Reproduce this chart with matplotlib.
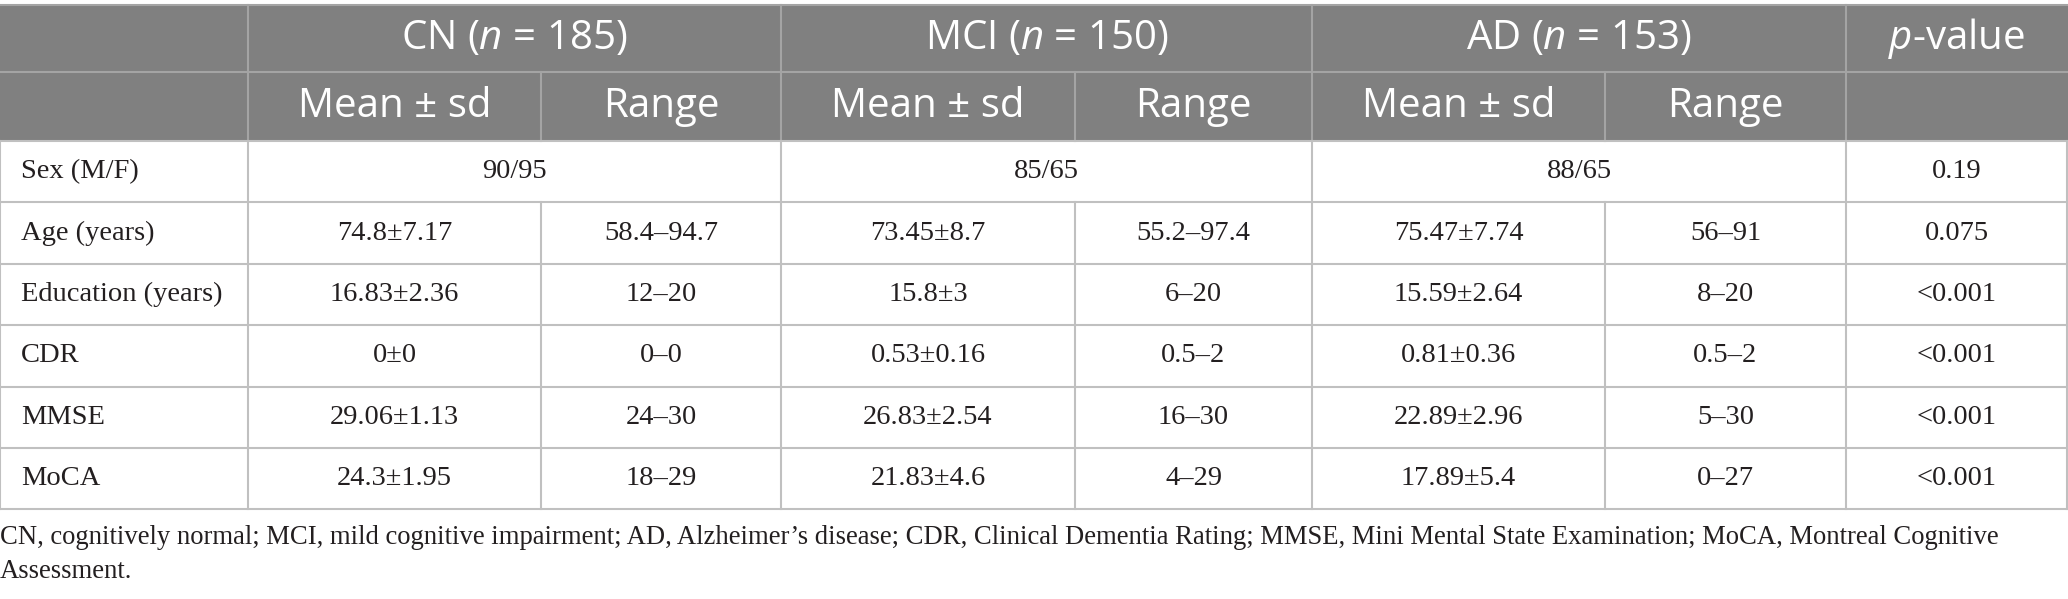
import matplotlib
matplotlib.use("Agg")
from matplotlib import pyplot as plt
from matplotlib.patches import Rectangle

# table data
row_labels = ["Sex (M/F)", "Age (years)", "Education (years)", "CDR", "MMSE", "MoCA"]
groups = ["CN", "MCI", "AD"]
group_n = [185, 150, 153]
sex_mf = ["90/95", "85/65", "88/65"]

cn_mean = ["74.8", "16.83", "0", "29.06", "24.3"]
cn_sd = ["7.17", "2.36", "0", "1.13", "1.95"]
cn_range = ["58.4–94.7", "12–20", "0–0", "24–30", "18–29"]

mci_mean = ["73.45", "15.8", "0.53", "26.83", "21.83"]
mci_sd = ["8.7", "3", "0.16", "2.54", "4.6"]
mci_range = ["55.2–97.4", "6–20", "0.5–2", "16–30", "4–29"]

ad_mean = ["75.47", "15.59", "0.81", "22.89", "17.89"]
ad_sd = ["7.74", "2.64", "0.36", "2.96", "5.4"]
ad_range = ["56–91", "8–20", "0.5–2", "5–30", "0–27"]

p_values = ["0.19", "0.075", "<0.001", "<0.001", "<0.001", "<0.001"]

footnote = ["CN, cognitively normal; MCI, mild cognitive impairment; AD, Alzheimer’s disease; CDR, Clinical Dementia Rating; MMSE, Mini Mental State Examination; MoCA, Montreal Cognitive",
            "Assessment."]

# layout (pixels)
W, H = 2068, 599
col_x = [0, 248, 541, 781, 1075, 1312, 1605, 1846, 2067]
row_y = [5, 72, 141, 202, 264, 325, 387, 448, 509]
head_bg = "#808080"
head_line = "#a4a4a4"
body_line = "#c0c0c0"
txt = "#231f20"

plt.rcParams['mathtext.fontset'] = 'custom'
plt.rcParams['mathtext.rm'] = 'Open Sans'
plt.rcParams['mathtext.it'] = 'Open Sans:italic'

fig = plt.figure(figsize=(W / 100, H / 100), dpi=100)
ax = fig.add_axes([0, 0, 1, 1])
ax.set_xlim(0, W)
ax.set_ylim(H, 0)
ax.axis('off')

# header background
ax.add_patch(Rectangle((0, row_y[0]), W, row_y[2] - row_y[0], color=head_bg, lw=0))

hfont = dict(family='Open Sans', fontsize=29, color='white', ha='center', va='center')
bfont = dict(family='Liberation Serif', fontsize=20.5, color=txt, va='center')

# header lines
ax.plot([0, W], [row_y[0], row_y[0]], color=head_line, lw=1.5)
ax.plot([0, W], [row_y[1], row_y[1]], color=head_line, lw=1.5)
for x in [col_x[1], col_x[3], col_x[5], col_x[7]]:
    ax.plot([x, x], [row_y[0], row_y[2]], color=head_line, lw=1.5)
for x in [col_x[2], col_x[4], col_x[6]]:
    ax.plot([x, x], [row_y[1], row_y[2]], color=head_line, lw=1.5)

# header text
y1 = (row_y[0] + row_y[1]) / 2
y2 = (row_y[1] + row_y[2]) / 2
for i, (g, n) in enumerate(zip(groups, group_n)):
    xc = (col_x[1 + 2 * i] + col_x[3 + 2 * i]) / 2
    ax.text(xc, y1, g + " ($n$ = " + str(n) + ")", **hfont)
    ax.text((col_x[1 + 2 * i] + col_x[2 + 2 * i]) / 2, y2, "Mean ± sd", **hfont)
    ax.text((col_x[2 + 2 * i] + col_x[3 + 2 * i]) / 2, y2, "Range", **hfont)
ax.text((col_x[7] + col_x[8]) / 2, y1, "$p$-value", **hfont)

# body lines
for y in row_y[2:]:
    ax.plot([0, col_x[-1]], [y, y], color=body_line, lw=1.5)
for x in [col_x[0], col_x[1], col_x[3], col_x[5], col_x[7], col_x[8]]:
    ax.plot([x, x], [row_y[2], row_y[-1]], color=body_line, lw=1.5)
for x in [col_x[2], col_x[4], col_x[6]]:
    ax.plot([x, x], [row_y[3], row_y[-1]], color=body_line, lw=1.5)

# body text
for r, lab in enumerate(row_labels):
    yc = (row_y[2 + r] + row_y[3 + r]) / 2
    ax.text(21, yc, lab, ha='left', **bfont)
    ax.text((col_x[7] + col_x[8]) / 2, yc, p_values[r], ha='center', **bfont)
    if r == 0:
        for i, s in enumerate(sex_mf):
            ax.text((col_x[1 + 2 * i] + col_x[3 + 2 * i]) / 2, yc, s, ha='center', **bfont)
        continue
    k = r - 1
    for i, (m, sd, rg) in enumerate([(cn_mean, cn_sd, cn_range), (mci_mean, mci_sd, mci_range),
                                      (ad_mean, ad_sd, ad_range)]):
        ax.text((col_x[1 + 2 * i] + col_x[2 + 2 * i]) / 2, yc, m[k] + "±" + sd[k], ha='center', **bfont)
        ax.text((col_x[2 + 2 * i] + col_x[3 + 2 * i]) / 2, yc, rg[k], ha='center', **bfont)

# footnote
fn = dict(bfont, fontsize=19.2)
ax.text(0, 537, footnote[0], ha='left', **fn)
ax.text(0, 571, footnote[1], ha='left', **fn)

fig.savefig("out.png", dpi=100)
